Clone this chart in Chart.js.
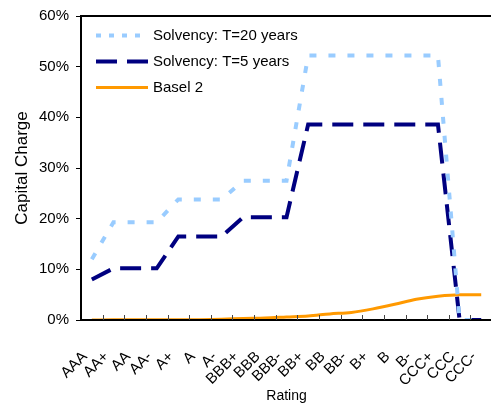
<!DOCTYPE html>
<html>
<head>
<meta charset="utf-8">
<script src="https://cdn.jsdelivr.net/npm/chart.js@4/dist/chart.umd.min.js"></script>
<style>
  html, body { margin: 0; padding: 0; background: #ffffff; overflow: hidden; }
  #wrap { width: 491px; height: 409px; overflow: hidden; position: relative; }
  canvas { display: block; }
</style>
</head>
<body>
<div id="wrap"><canvas id="c" width="502" height="409"></canvas></div>
<script>
const categories = ['AAA','AA+','AA','AA-','A+','A','A-','BBB+','BBB','BBB-','BB+','BB','BB-','B+','B','B-','CCC+','CCC','CCC-'];
const solvencyT20 = [12.0, 19.3, 19.3, 19.3, 23.8, 23.8, 23.8, 27.5, 27.5, 27.5, 52.2, 52.2, 52.2, 52.2, 52.2, 52.2, 52.2, 0, 0];
const solvencyT5  = [8.0, 10.2, 10.2, 10.2, 16.5, 16.5, 16.5, 20.3, 20.3, 20.3, 38.6, 38.6, 38.6, 38.6, 38.6, 38.6, 38.6, 0, 0];
const basel2      = [0.02, 0.03, 0.03, 0.04, 0.05, 0.07, 0.15, 0.3, 0.4, 0.6, 0.8, 1.2, 1.5, 2.2, 3.1, 4.1, 4.7, 5.0, 5.0];
const yTicks = [0, 10, 20, 30, 40, 50, 60];

const FONT = "'Liberation Sans', Arial, sans-serif";

const frameAndLegend = {
  id: 'frameAndLegend',
  afterDatasetsDraw(chart) {
    const ctx = chart.ctx;
    const a = chart.chartArea;
    const xs = chart.scales.x;
    ctx.save();
    // plot frame
    ctx.strokeStyle = '#000';
    ctx.lineWidth = 2;
    ctx.strokeRect(a.left, a.top, a.right - a.left, a.bottom - a.top);
    // inward x tick marks at category boundaries
    ctx.lineWidth = 1;
    ctx.strokeStyle = '#444';
    for (let i = 1; i < categories.length; i++) {
      const x = Math.round((xs.getPixelForTick(i - 1) + xs.getPixelForTick(i)) / 2) + 0.5;
      ctx.beginPath();
      ctx.moveTo(x, a.bottom);
      ctx.lineTo(x, a.bottom - 5);
      ctx.stroke();
    }
    // legend inside the plot
    const x0 = a.left + 15, x1 = a.left + 67;
    let y = a.top + 19.5;
    chart.data.datasets.forEach(ds => {
      ctx.save();
      ctx.strokeStyle = ds.borderColor;
      ctx.lineWidth = ds.borderWidth;
      ctx.setLineDash(ds.legendDash || []);
      ctx.beginPath();
      ctx.moveTo(x0, y);
      ctx.lineTo(x1, y);
      ctx.stroke();
      ctx.restore();
      ctx.fillStyle = '#000';
      ctx.font = '15px ' + FONT;
      ctx.textBaseline = 'middle';
      ctx.textAlign = 'left';
      ctx.fillText(ds.label, x1 + 5, y + 0.5);
      y += 26;
    });
    ctx.restore();
  }
};

new Chart(document.getElementById('c'), {
  type: 'line',
  data: {
    labels: categories,
    datasets: [
      {
        label: 'Solvency: T=20 years',
        data: solvencyT20,
        borderColor: '#99CCFF',
        borderWidth: 4,
        borderDash: [7, 12],
        legendDash: [5, 8],
        borderCapStyle: 'butt',
        pointRadius: 0,
        tension: 0,
        fill: false
      },
      {
        label: 'Solvency: T=5 years',
        data: solvencyT5,
        borderColor: '#000080',
        borderWidth: 4,
        borderDash: [21, 10],
        legendDash: [21, 10],
        borderCapStyle: 'butt',
        pointRadius: 0,
        tension: 0,
        fill: false
      },
      {
        label: 'Basel 2',
        data: basel2,
        borderColor: '#FF9900',
        borderWidth: 3,
        legendDash: [],
        pointRadius: 0,
        cubicInterpolationMode: 'monotone',
        fill: false
      }
    ]
  },
  options: {
    responsive: false,
    animation: false,
    devicePixelRatio: 1,
    layout: { padding: { top: 15, right: 2, left: 0, bottom: 0 } },
    plugins: { legend: { display: false }, tooltip: { enabled: false } },
    scales: {
      x: {
        offset: true,
        grid: { display: true, drawOnChartArea: false, drawTicks: true, tickLength: 20, color: 'rgba(0,0,0,0)' },
        border: { display: false },
        ticks: {
          autoSkip: false,
          minRotation: 45,
          maxRotation: 45,
          color: '#000',
          padding: 8,
          labelOffset: -7,
          font: { family: FONT, size: 15 }
        },
        title: {
          display: true,
          text: 'Rating',
          color: '#000',
          font: { family: FONT, size: 14 },
          padding: { top: 0, bottom: 4 }
        },
        afterFit(scale) { scale.height = 89; }
      },
      y: {
        min: 0,
        max: 60,
        afterBuildTicks(scale) { scale.ticks = yTicks.map(v => ({ value: v })); },
        grid: { drawOnChartArea: false, drawTicks: true, tickLength: 5, color: '#000', lineWidth: 1 },
        border: { display: false },
        ticks: {
          color: '#000',
          padding: 7,
          font: { family: FONT, size: 15 },
          callback: v => v + '%'
        },
        title: {
          display: true,
          text: 'Capital Charge',
          color: '#000',
          font: { family: FONT, size: 17 },
          padding: { top: 12, bottom: 0 }
        },
        afterFit(scale) { scale.width = 81; }
      }
    }
  },
  plugins: [frameAndLegend]
});
</script>
</body>
</html>
